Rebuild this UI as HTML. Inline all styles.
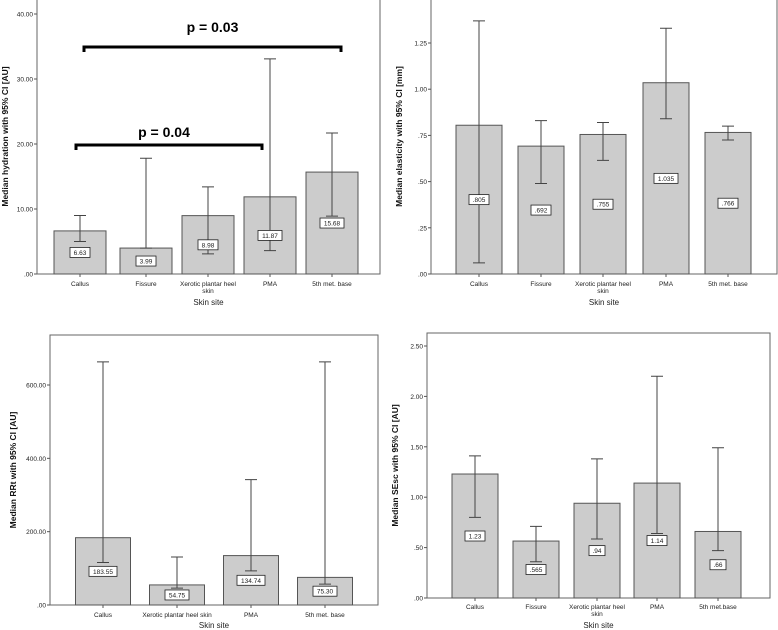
<!DOCTYPE html>
<html><head><meta charset="utf-8">
<style>
html,body{margin:0;padding:0;background:#fff;}
svg{display:block;font-family:"Liberation Sans",sans-serif;}
</style></head>
<body>
<svg id="fig" width="778" height="630" viewBox="0 0 778 630" xmlns="http://www.w3.org/2000/svg"></svg>
<script>
// Panel A: hydration
const catsA = ["Callus","Fissure","Xerotic plantar heel|skin","PMA","5th met. base"];
const valsA = [6.63,3.99,8.98,11.87,15.68];
const loA = [5.0,3.99,3.1,3.6,8.9];
const hiA = [9.0,17.8,13.4,33.1,21.7];
const labA = ["6.63","3.99","8.98","11.87","15.68"];
const ticksA = [0,10,20,30,40];
const tickLabA = [".00","10.00","20.00","30.00","40.00"];
// Panel B: elasticity
const catsB = ["Callus","Fissure","Xerotic plantar heel|skin","PMA","5th met. base"];
const valsB = [0.805,0.692,0.755,1.035,0.766];
const loB = [0.06,0.49,0.615,0.84,0.725];
const hiB = [1.37,0.83,0.82,1.33,0.80];
const labB = [".805",".692",".755","1.035",".766"];
const ticksB = [0,0.25,0.5,0.75,1.0,1.25];
const tickLabB = [".00",".25",".50",".75","1.00","1.25"];
// Panel C: RRt
const catsC = ["Callus","Xerotic plantar heel skin","PMA","5th met. base"];
const valsC = [183.55,54.75,134.74,75.30];
const loC = [116,46,93,57];
const hiC = [663,131,342,663];
const labC = ["183.55","54.75","134.74","75.30"];
const ticksC = [0,200,400,600];
const tickLabC = [".00","200.00","400.00","600.00"];
// Panel D: SEsc
const catsD = ["Callus","Fissure","Xerotic plantar heel|skin","PMA","5th met.base"];
const valsD = [1.23,0.565,0.94,1.14,0.66];
const loD = [0.80,0.36,0.585,0.64,0.47];
const hiD = [1.41,0.71,1.38,2.20,1.49];
const labD = [".1.23".slice(1),".565",".94","1.14",".66"];
const ticksD = [0,0.5,1.0,1.5,2.0,2.5];
const tickLabD = [".00",".50","1.00","1.50","2.00","2.50"];

const NS="http://www.w3.org/2000/svg";
const svg=document.getElementById('fig');
function mk(tag,attrs,parent){const e=document.createElementNS(NS,tag);for(const k in attrs)e.setAttribute(k,attrs[k]);(parent||svg).appendChild(e);return e;}

function panel(id,cfg,cats,vals,lo,hi,labs,ticks,tickLabs){
  const g=mk('g',{});
  
  
  const {x0,x1,yTop,y0,yRef,vRef,centers,bw,ytitle,titleX,labY,titleY}=cfg;
  const ys=v=>y0-(y0-yRef)*v/vRef;
  const fr=mk('rect',{x:x0,y:yTop,width:x1-x0,height:y0-yTop,fill:'#fff',stroke:'#666','stroke-width':1},g);
  
  
  ticks.forEach((t,i)=>{
    const y=ys(t);
    const tl=mk('line',{x1:x0-3,x2:x0,y1:y,y2:y,stroke:'#555'},g);
    
    
    const tx=mk('text',{x:x0-4,y:y+2.5,'font-size':6.5,'text-anchor':'end',fill:'#222'},g);
    tx.textContent=tickLabs[i];
    
    
  });
  cats.forEach((c,i)=>{
    const cx=centers[i];
    const yv=ys(vals[i]);
    const b=mk('rect',{x:cx-bw/2,y:yv,width:bw,height:y0-yv,fill:'#cccccc',stroke:'#555','stroke-width':1},g);
    
    
    const yl=ys(lo[i]),yh=ys(hi[i]);
    const e=mk('path',{d:`M${cx},${yl}V${yh}M${cx-6},${yh}H${cx+6}M${cx-6},${yl}H${cx+6}`,stroke:'#444','stroke-width':1,fill:'none'},g);
    
    
    const ly=ys(vals[i]/2);
    const w=labs[i].length*4+4;
    const lb=mk('rect',{x:cx-w/2,y:ly-5,width:w,height:10,fill:'#fff',stroke:'#222','stroke-width':0.8},g);
    
    
    const lt=mk('text',{x:cx,y:ly+2.5,'font-size':6.5,'text-anchor':'middle',fill:'#222'},g);
    lt.textContent=labs[i];
    
    
    const ct=mk('line',{x1:cx,x2:cx,y1:y0,y2:y0+3,stroke:'#555'},g);
    
    
    c.split('|').forEach((ln,k)=>{
      const t=mk('text',{x:cx,y:labY+k*7,'font-size':6.5,'text-anchor':'middle',fill:'#222'},g);
      t.textContent=ln;
      
      
    });
  });
  const xt=mk('text',{x:(x0+x1)/2,y:titleY,'font-size':8,'text-anchor':'middle',fill:'#222'},g);
  xt.textContent='Skin site';
  
  
  const cy=(yTop+y0)/2;
  const yt=mk('text',{x:titleX,y:cy,'font-size':8.5,'font-weight':'bold','text-anchor':'middle',fill:'#111',transform:`rotate(-90 ${titleX} ${cy})`},g);
  yt.textContent=ytitle;
  
  
  return ys;
}

const ysA=panel('hydration',{x0:37,x1:380,yTop:-1,y0:274,yRef:14,vRef:40,centers:[80,146,208,270,332],bw:52,ytitle:'Median hydration with 95% CI [AU]',titleX:8,labY:286,titleY:305},catsA,valsA,loA,hiA,labA,ticksA,tickLabA);
panel('elasticity',{x0:431,x1:777,yTop:-1,y0:274,yRef:43,vRef:1.25,centers:[479,541,603,666,728],bw:46,ytitle:'Median elasticity with 95% CI [mm]',titleX:402,labY:286,titleY:305},catsB,valsB,loB,hiB,labB,ticksB,tickLabB);
panel('rrt',{x0:50,x1:378,yTop:335,y0:605,yRef:385,vRef:600,centers:[103,177,251,325],bw:55,ytitle:'Median RRt with 95% CI [AU]',titleX:16,labY:617,titleY:628},catsC,valsC,loC,hiC,labC,ticksC,tickLabC);
panel('sesc',{x0:427,x1:770,yTop:333,y0:598,yRef:346,vRef:2.5,centers:[475,536,597,657,718],bw:46,ytitle:'Median SEsc with 95% CI [AU]',titleX:398,labY:609,titleY:628},catsD,valsD,loD,hiD,labD,ticksD,tickLabD);

// significance brackets
function bracket(name,xa,xb,y,txt,ty){
  const p=mk('path',{d:`M${xa},${y+5}V${y}H${xb}V${y+5}`,stroke:'#000','stroke-width':3,fill:'none'});
  
  
  const t=mk('text',{x:(xa+xb)/2+(name==='p-004'?-5:0),y:ty,'font-size':14,'font-weight':'bold','text-anchor':'middle',fill:'#000'});
  t.textContent=txt;
  
  
}
bracket('p-003',84,341,47,'p = 0.03',32);
bracket('p-004',76,262,145,'p = 0.04',137);
</script>
</body></html>
